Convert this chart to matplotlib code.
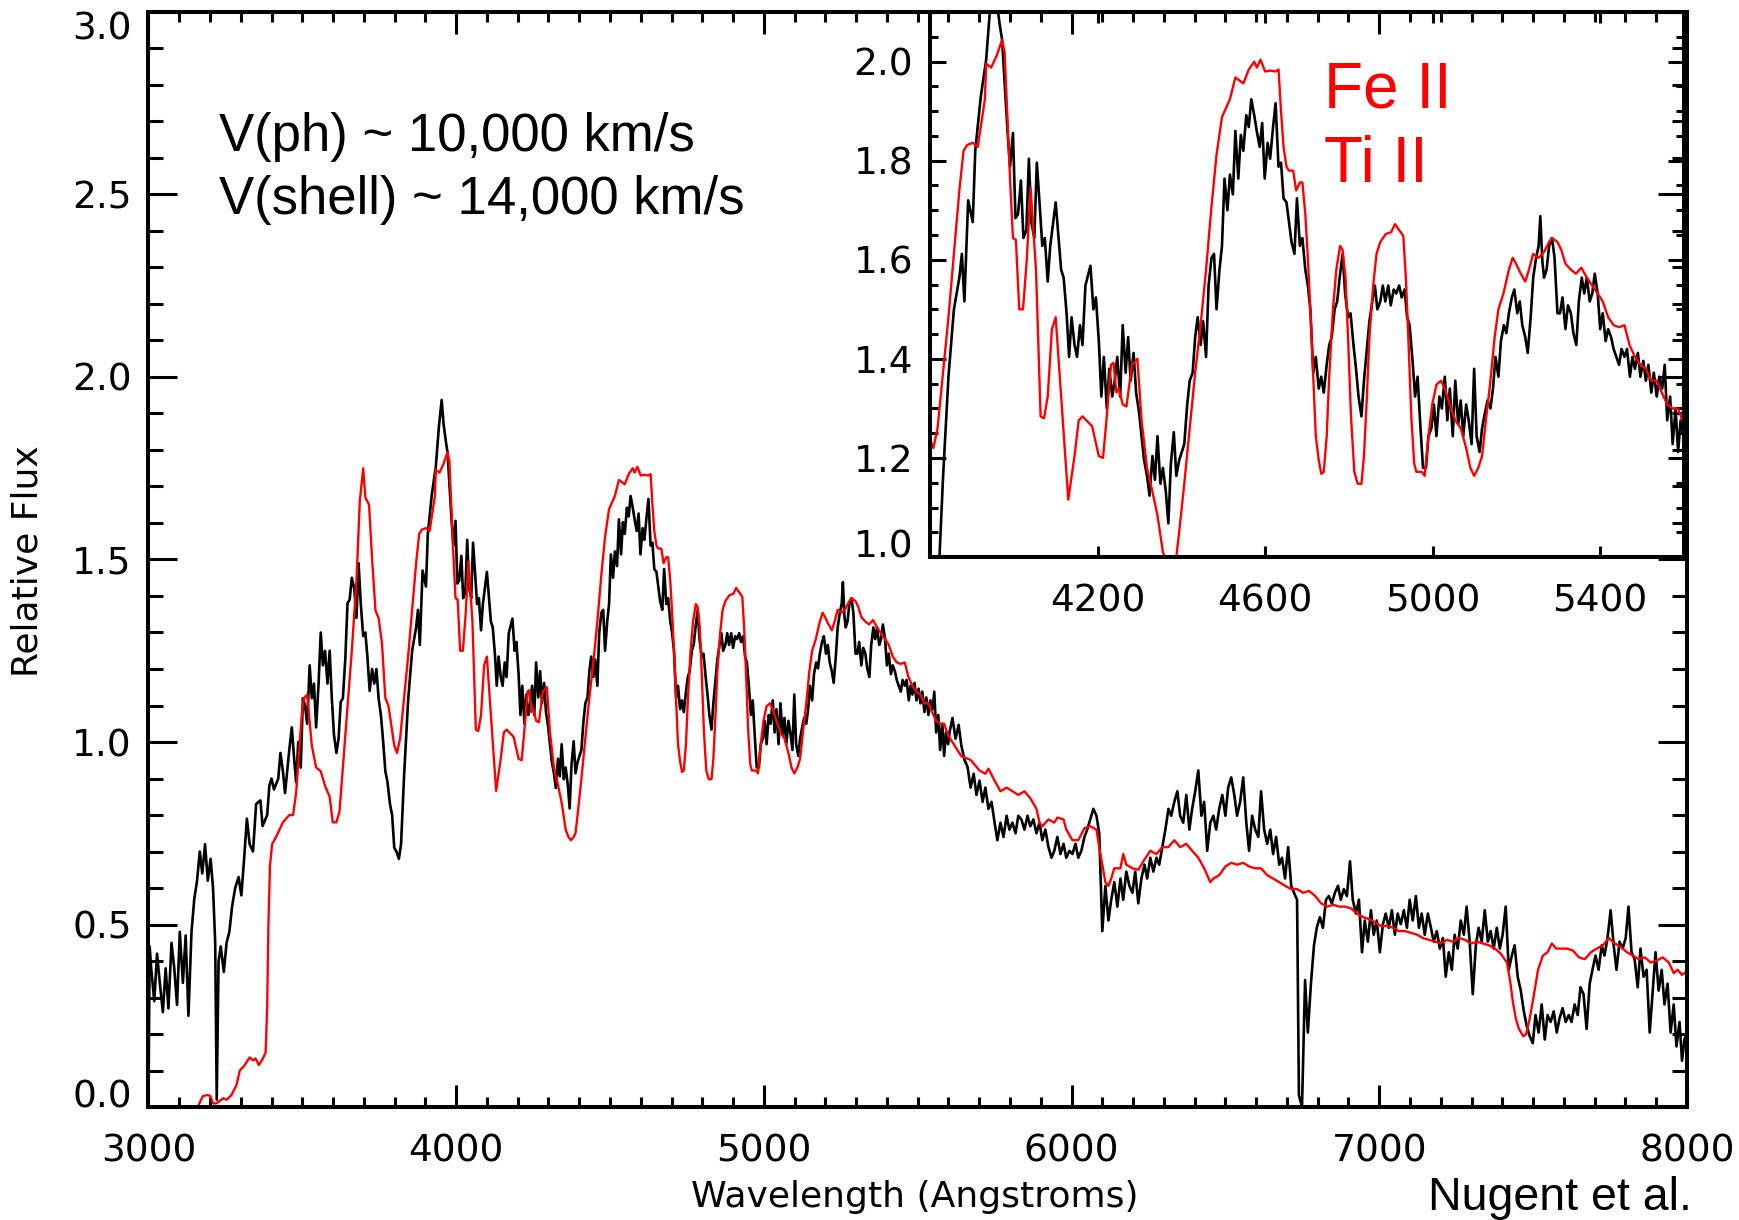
import matplotlib
matplotlib.use("Agg")
import matplotlib.pyplot as plt
from matplotlib import font_manager
from matplotlib.ticker import MultipleLocator, FormatStrFormatter, NullLocator

# observed spectrum (black), wavelength in Angstrom, relative flux
obs_wave = [
    3000, 3004, 3009, 3019, 3028, 3037, 3047, 3056, 3065, 3075, 3084, 3093, 3102, 3112, 3121, 3130,
    3140, 3149, 3158, 3167, 3175, 3184, 3193, 3202, 3210, 3217, 3222, 3228, 3235, 3245, 3254, 3263,
    3272, 3282, 3293, 3302, 3311, 3320, 3329, 3340, 3350, 3364, 3371, 3386, 3393, 3400, 3408, 3422,
    3429, 3437, 3444, 3451, 3458, 3466, 3473, 3480, 3487, 3495, 3502, 3509, 3516, 3524, 3531, 3538,
    3545, 3553, 3560, 3567, 3574, 3582, 3589, 3596, 3603, 3611, 3618, 3625, 3632, 3640, 3647, 3654,
    3661, 3669, 3676, 3683, 3690, 3698, 3705, 3712, 3719, 3727, 3734, 3741, 3748, 3756, 3763, 3770,
    3777, 3785, 3792, 3799, 3806, 3814, 3821, 3831,
    3844, 3857, 3870, 3876, 3882, 3891, 3902, 3908, 3921, 3934, 3944, 3953, 3959, 3966, 3972, 3985,
    3991, 3998, 4004, 4010, 4017, 4023, 4030, 4036, 4042, 4049, 4055, 4062, 4068, 4074, 4081, 4087,
    4094, 4100, 4107, 4113, 4119, 4126, 4132, 4138, 4145, 4151, 4158, 4164, 4171, 4183, 4190, 4196,
    4203, 4209, 4215, 4222, 4228, 4235, 4241, 4247, 4254, 4260, 4267, 4273, 4279, 4286, 4292, 4299,
    4305, 4311, 4318, 4324, 4331, 4337, 4343, 4350, 4356, 4363, 4369, 4375, 4382, 4388, 4395, 4401,
    4407, 4414, 4420, 4427, 4433, 4439, 4446, 4452, 4459, 4465, 4472, 4478, 4484, 4491, 4497, 4503,
    4510, 4516, 4523, 4529, 4536, 4542, 4548, 4555, 4561, 4567, 4574, 4580, 4587, 4593, 4599, 4606,
    4612, 4619, 4625, 4632, 4638, 4644, 4651, 4657, 4663, 4670, 4676, 4683, 4689, 4696, 4702, 4708,
    4715, 4721, 4728, 4734, 4740, 4747, 4753, 4759, 4766, 4772, 4778, 4785, 4791, 4798, 4804, 4811,
    4817, 4823, 4830, 4836, 4843, 4849, 4856, 4862, 4868, 4875, 4881, 4887, 4894, 4900, 4907, 4913,
    4920, 4926, 4933, 4939, 4945, 4952, 4958, 4964, 4971, 4977, 4984, 4990, 4997, 5003, 5009, 5016,
    5022, 5029, 5035, 5041, 5048, 5054, 5061, 5067, 5073, 5080, 5086, 5093, 5099, 5105, 5112, 5118,
    5125, 5131, 5138, 5144, 5150, 5157, 5163, 5170, 5176, 5182, 5189, 5195, 5202, 5208, 5214, 5221,
    5227, 5234, 5240, 5247, 5253, 5257, 5262, 5266, 5272, 5278, 5285, 5291, 5298, 5304, 5310, 5317,
    5323, 5330, 5336, 5343, 5349, 5356, 5362, 5368, 5375, 5381, 5387, 5394, 5400, 5406, 5413, 5419,
    5426, 5432, 5445, 5451, 5458, 5464, 5471, 5477, 5483, 5490, 5496, 5503, 5509, 5515, 5522, 5528,
    5535, 5541, 5548, 5554, 5560, 5567, 5573, 5580, 5586, 5592, 5599,
    5604, 5613, 5623, 5633, 5642, 5652, 5662, 5672, 5682, 5691, 5701, 5711, 5720, 5730, 5740, 5750,
    5759, 5769, 5779, 5789, 5798, 5808, 5818, 5827, 5837, 5847, 5857, 5866, 5876, 5886, 5896, 5905,
    5915, 5925, 5935, 5944, 5954, 5964, 5974, 5983, 5993, 6003, 6013, 6022, 6032, 6042, 6051, 6061,
    6071, 6081, 6090, 6100, 6110, 6120, 6129, 6139, 6149, 6159, 6168, 6178, 6188, 6198, 6207, 6217,
    6227, 6237, 6246, 6256, 6266, 6276, 6285, 6295, 6305, 6315, 6324, 6334, 6344, 6353, 6363, 6373,
    6383, 6392, 6402, 6412, 6422, 6431, 6441, 6451, 6461, 6470, 6480, 6490, 6500, 6509, 6519, 6529,
    6538, 6548, 6558, 6568, 6577, 6587, 6597, 6607, 6616, 6626, 6636, 6646, 6655, 6665, 6675, 6684,
    6694, 6704, 6714, 6723, 6733, 6739, 6749, 6759, 6768, 6778, 6788, 6797, 6807, 6817, 6827, 6836,
    6846, 6856, 6866, 6875, 6885, 6895, 6905, 6914, 6924, 6934, 6944, 6953, 6963, 6973, 6982, 6992,
    7002, 7012, 7021, 7031, 7041, 7051, 7060, 7070, 7080, 7090, 7099, 7109, 7119, 7129, 7138, 7148,
    7158, 7168, 7177, 7187, 7197, 7207, 7216, 7226, 7236, 7245, 7255, 7265, 7275, 7284, 7294, 7304,
    7314, 7323, 7333, 7343, 7353, 7362, 7372, 7382, 7392, 7401, 7411, 7421, 7431, 7440, 7450, 7460,
    7470, 7479, 7489, 7499, 7508, 7518, 7528, 7538, 7547, 7557, 7567, 7577, 7586, 7596, 7606, 7616,
    7625, 7635, 7645, 7654, 7664, 7674, 7684, 7693, 7703, 7713, 7723, 7732, 7742, 7752, 7762, 7771,
    7781, 7791, 7801, 7810, 7820, 7830, 7840, 7849, 7859, 7869, 7879, 7888, 7898, 7908, 7918, 7927,
    7937, 7947, 7957, 7966, 7976, 7984, 7992, 8000,
]
obs_flux = [
    0.0, 0.44, 0.38, 0.29, 0.42, 0.34, 0.26, 0.38, 0.27, 0.45, 0.38, 0.28, 0.48, 0.34, 0.47, 0.25,
    0.48, 0.57, 0.62, 0.70, 0.64, 0.72, 0.62, 0.68, 0.60, 0.45, 0.02, 0.40, 0.44, 0.37, 0.45, 0.48,
    0.55, 0.60, 0.63, 0.58, 0.68, 0.79, 0.72, 0.70, 0.83, 0.84, 0.77, 0.80, 0.88, 0.90, 0.87, 0.90,
    0.97, 0.92, 0.86, 0.92, 0.98, 1.04, 0.96, 0.89, 1.00, 0.93, 1.12, 1.10, 1.05, 1.21, 1.12, 1.16,
    1.04, 1.16, 1.30, 1.21, 1.25, 1.16, 1.25, 1.12, 1.02, 0.97, 1.01, 1.11, 1.12, 1.23, 1.38, 1.39,
    1.45, 1.42, 1.34, 1.49, 1.38, 1.29, 1.30, 1.23, 1.14, 1.20, 1.16, 1.20, 1.12, 1.07, 1.00, 0.92,
    0.89, 0.83, 0.80, 0.71, 0.70, 0.68, 0.72, 0.91,
    1.114, 1.25, 1.314, 1.362, 1.266, 1.47, 1.426, 1.57, 1.678, 1.754, 1.864, 1.937, 1.873, 1.827, 1.794, 1.61,
    1.538, 1.606, 1.434, 1.442, 1.51, 1.394, 1.41, 1.554, 1.426, 1.394, 1.546, 1.458, 1.378, 1.394, 1.306, 1.378,
    1.426, 1.466, 1.394, 1.33, 1.314, 1.242, 1.154, 1.234, 1.178, 1.154, 1.218, 1.178, 1.298, 1.338, 1.25, 1.274,
    1.186, 1.074, 1.154, 1.05, 1.13, 1.074, 1.106, 1.154, 1.074, 1.218, 1.122, 1.194, 1.106, 1.162, 1.082, 1.042,
    0.994, 0.946, 0.914, 0.874, 0.954, 0.906, 0.994, 0.898, 0.93, 0.882, 0.818, 0.938, 1.002, 0.914, 0.946, 0.962,
    0.978, 1.058, 1.106, 1.122, 1.194, 1.234, 1.178, 1.226, 1.154, 1.298, 1.354, 1.362, 1.25, 1.33, 1.378, 1.514,
    1.45, 1.522, 1.482, 1.61, 1.514, 1.602, 1.57, 1.642, 1.618, 1.674, 1.642, 1.61, 1.578, 1.626, 1.514, 1.586,
    1.554, 1.618, 1.666, 1.538, 1.546, 1.474, 1.466, 1.426, 1.386, 1.362, 1.474, 1.378, 1.394, 1.33, 1.298, 1.25,
    1.122, 1.154, 1.09, 1.114, 1.082, 1.138, 1.178, 1.194, 1.25, 1.266, 1.314, 1.362, 1.282, 1.234, 1.242, 1.178,
    1.13, 1.074, 1.034, 1.106, 1.17, 1.226, 1.266, 1.298, 1.25, 1.266, 1.298, 1.266, 1.298, 1.258, 1.29, 1.282,
    1.298, 1.274, 1.29, 1.234, 1.218, 1.146, 1.074, 1.114, 1.01, 0.93, 0.93, 0.994, 1.01, 1.058, 0.994, 1.074,
    1.05, 1.114, 1.026, 1.09, 0.994, 1.106, 1.018, 1.066, 0.994, 1.058, 1.026, 0.978, 1.13, 0.994, 0.962, 1.01,
    1.042, 1.066, 1.05, 1.09, 1.154, 1.114, 1.186, 1.218, 1.202, 1.242, 1.274, 1.29, 1.242, 1.266, 1.218, 1.194,
    1.162, 1.234, 1.314, 1.354, 1.378, 1.438, 1.346, 1.314, 1.33, 1.378, 1.394, 1.354, 1.242, 1.242, 1.274, 1.21,
    1.258, 1.242, 1.202, 1.178, 1.266, 1.314, 1.282, 1.314, 1.266, 1.282, 1.322, 1.282, 1.21, 1.242, 1.186, 1.21,
    1.194, 1.17, 1.138, 1.17, 1.154, 1.17, 1.114, 1.154, 1.13, 1.162, 1.114, 1.146, 1.106, 1.138, 1.082, 1.122,
    1.074, 1.114, 1.09, 1.138, 1.026, 1.074, 0.978, 1.05, 0.962, 1.026, 0.994,
    1.028, 1.066, 1.009, 1.047, 0.99, 0.951, 0.932, 0.875, 0.913, 0.855, 0.894, 0.836, 0.875, 0.817, 0.836, 0.779,
    0.731, 0.779, 0.74, 0.798, 0.76, 0.779, 0.75, 0.798, 0.788, 0.76, 0.798, 0.769, 0.788, 0.75, 0.779, 0.731,
    0.76, 0.712, 0.683, 0.702, 0.74, 0.693, 0.721, 0.683, 0.702, 0.693, 0.721, 0.683, 0.702, 0.74, 0.76, 0.788,
    0.817, 0.798, 0.75, 0.482, 0.606, 0.511, 0.568, 0.616, 0.549, 0.626, 0.568, 0.645, 0.606, 0.587, 0.645, 0.558,
    0.626, 0.664, 0.626, 0.683, 0.645, 0.683, 0.664, 0.712, 0.76, 0.817, 0.798, 0.836, 0.865, 0.798, 0.779, 0.855,
    0.76, 0.817, 0.865, 0.922, 0.798, 0.836, 0.702, 0.779, 0.798, 0.76, 0.817, 0.855, 0.798, 0.875, 0.903, 0.855,
    0.798, 0.836, 0.903, 0.779, 0.702, 0.798, 0.76, 0.74, 0.865, 0.76, 0.721, 0.76, 0.693, 0.74, 0.664, 0.683,
    0.626, 0.712, 0.606, 0.587, 0.568, 0.032, 0.0, 0.348, 0.204, 0.338, 0.443, 0.491, 0.52, 0.491, 0.568, 0.578,
    0.558, 0.587, 0.606, 0.568, 0.597, 0.578, 0.673, 0.568, 0.53, 0.568, 0.424, 0.511, 0.453, 0.539, 0.472, 0.511,
    0.424, 0.501, 0.53, 0.491, 0.539, 0.472, 0.53, 0.501, 0.539, 0.491, 0.568, 0.511, 0.578, 0.491, 0.53, 0.472,
    0.53, 0.491, 0.453, 0.482, 0.434, 0.463, 0.357, 0.424, 0.376, 0.472, 0.434, 0.511, 0.472, 0.549, 0.453, 0.309,
    0.443, 0.491, 0.453, 0.539, 0.453, 0.482, 0.434, 0.491, 0.434, 0.472, 0.549, 0.376, 0.415, 0.443, 0.357, 0.319,
    0.262, 0.223, 0.194, 0.175, 0.252, 0.204, 0.281, 0.185, 0.252, 0.233, 0.262, 0.204, 0.243, 0.271, 0.233, 0.252,
    0.233, 0.281, 0.252, 0.328, 0.309, 0.214, 0.338, 0.376, 0.415, 0.376, 0.443, 0.415, 0.463, 0.539, 0.443, 0.376,
    0.453, 0.434, 0.463, 0.549, 0.424, 0.405, 0.328, 0.434, 0.357, 0.376, 0.204, 0.309, 0.424, 0.319, 0.376, 0.281,
    0.338, 0.204, 0.281, 0.166, 0.233, 0.127, 0.185, 0.204,
]

# model spectrum (red)
model_wave = [
    3000, 3160, 3177, 3193, 3201, 3210, 3221, 3243, 3254, 3270, 3286, 3297, 3313, 3329, 3340, 3348,
    3359, 3372, 3381, 3386, 3390, 3395, 3402, 3415, 3437, 3458, 3470, 3480, 3490, 3500, 3506, 3516,
    3531, 3545, 3560, 3574, 3589, 3599, 3611, 3621, 3632, 3647, 3661, 3676, 3687, 3698, 3705, 3717,
    3727, 3738, 3748, 3759, 3770, 3780, 3792,
    3799, 3808, 3818, 3831, 3844, 3857, 3870, 3880, 3889, 3902, 3914, 3921, 3931, 3934, 3946, 3959,
    3972, 3978, 3985, 3991, 3998, 4005, 4013, 4022, 4031, 4040, 4053, 4064, 4072, 4081, 4091, 4100,
    4113, 4126, 4130, 4145, 4155, 4164, 4187, 4203, 4213, 4222, 4232, 4238, 4245, 4251, 4260, 4269,
    4282, 4295, 4305, 4318, 4331, 4343, 4356, 4365, 4373, 4382, 4388, 4395, 4407, 4420, 4433, 4446,
    4459, 4472, 4484, 4497, 4516, 4529, 4548, 4561, 4574, 4580, 4589, 4600, 4612, 4625, 4632, 4638,
    4644, 4651, 4657, 4667, 4674, 4683, 4689, 4696, 4702, 4708, 4715, 4721, 4728, 4734, 4740, 4747,
    4753, 4762, 4770, 4779, 4785, 4792, 4798, 4805, 4813, 4821, 4830, 4836, 4843, 4849, 4858, 4866,
    4875, 4888, 4901, 4910, 4920, 4930, 4936, 4943, 4949, 4956, 4961, 4974, 4981, 4990, 4999, 5009,
    5020, 5029, 5041, 5054, 5067, 5080, 5090, 5099, 5109, 5118, 5127, 5137, 5148, 5157, 5169, 5182,
    5191, 5199, 5208, 5221, 5230, 5240, 5253, 5266, 5278, 5285, 5298, 5307, 5317, 5330, 5342, 5355,
    5368, 5381, 5394, 5406, 5419, 5432, 5445, 5458, 5470, 5483, 5496, 5509, 5522, 5535, 5547, 5560,
    5573, 5586, 5599,
    5642, 5672, 5701, 5720, 5730, 5750, 5769, 5789, 5808, 5827, 5847, 5866, 5886, 5896, 5905, 5925,
    5944, 5954, 5974, 5983, 6003, 6022, 6042, 6061, 6081, 6090, 6100, 6110, 6120, 6129, 6139, 6159,
    6168, 6178, 6198, 6217, 6237, 6256, 6276, 6295, 6315, 6334, 6353, 6373, 6392, 6412, 6431, 6451,
    6461, 6480, 6500, 6519, 6538, 6558, 6577, 6597, 6616, 6636, 6655, 6675, 6694, 6714, 6733, 6753,
    6772, 6792, 6811, 6831, 6850, 6870, 6889, 6909, 6928, 6948, 6967, 6986, 7006, 7025, 7045, 7064,
    7084, 7103, 7123, 7142, 7162, 7181, 7201, 7220, 7240, 7259, 7279, 7298, 7318, 7337, 7357, 7376,
    7395, 7415, 7425, 7434, 7444, 7454, 7468, 7477, 7489, 7503, 7516, 7532, 7547, 7561, 7575, 7590,
    7610, 7629, 7649, 7668, 7688, 7707, 7727, 7746, 7766, 7785, 7805, 7824, 7843, 7863, 7882, 7902,
    7921, 7941, 7957, 7970, 7984, 8000,
]
model_flux = [
    0.0, 0.0, 0.03, 0.033, 0.03, 0.01, 0.01, 0.024, 0.02, 0.033, 0.06, 0.10, 0.115, 0.136, 0.128, 0.133,
    0.115, 0.133, 0.15, 0.28, 0.50, 0.66, 0.72, 0.74, 0.78, 0.80, 0.80, 0.86, 0.98, 1.09, 1.12, 1.13,
    0.99, 0.93, 0.92, 0.88, 0.85, 0.78, 0.78, 0.81, 0.93, 1.09, 1.25, 1.44, 1.66, 1.75, 1.67, 1.65,
    1.50, 1.36, 1.34, 1.27, 1.12, 1.10, 1.03,
    0.99, 0.97, 1.01, 1.122, 1.234, 1.362, 1.49, 1.57, 1.582, 1.586, 1.578, 1.618, 1.674, 1.746, 1.738, 1.762,
    1.794, 1.77, 1.634, 1.514, 1.394, 1.39, 1.25, 1.25, 1.35, 1.495, 1.33, 1.034, 1.03, 1.074, 1.21, 1.234,
    1.074, 0.914, 0.866, 0.954, 1.026, 1.034, 1.014, 0.954, 0.95, 1.034, 1.138, 1.142, 1.082, 1.09, 1.058, 1.054,
    1.138, 1.15, 1.026, 0.93, 0.882, 0.834, 0.76, 0.74, 0.731, 0.74, 0.75, 0.802, 0.898, 1.01, 1.122, 1.218,
    1.33, 1.458, 1.562, 1.638, 1.674, 1.718, 1.706, 1.734, 1.75, 1.738, 1.754, 1.73, 1.732, 1.73, 1.734, 1.65,
    1.578, 1.538, 1.53, 1.53, 1.49, 1.506, 1.506, 1.442, 1.354, 1.25, 1.114, 0.994, 0.946, 0.918, 0.922, 0.994,
    1.114, 1.25, 1.33, 1.378, 1.37, 1.314, 1.194, 1.034, 0.922, 0.898, 0.898, 0.954, 1.074, 1.194, 1.298, 1.362,
    1.386, 1.402, 1.406, 1.422, 1.41, 1.398, 1.314, 1.17, 1.034, 0.938, 0.922, 0.922, 0.914, 0.994, 1.058, 1.098,
    1.106, 1.09, 1.058, 1.026, 1.01, 0.97, 0.93, 0.914, 0.93, 0.954, 1.026, 1.098, 1.194, 1.25, 1.282, 1.33,
    1.354, 1.342, 1.326, 1.306, 1.33, 1.362, 1.354, 1.366, 1.386, 1.394, 1.386, 1.37, 1.342, 1.33, 1.322, 1.334,
    1.314, 1.298, 1.282, 1.266, 1.234, 1.218, 1.214, 1.218, 1.178, 1.154, 1.138, 1.13, 1.106, 1.106, 1.082, 1.058,
    1.05, 1.05, 1.018,
    0.961, 0.951, 0.922, 0.913, 0.927, 0.894, 0.865, 0.875, 0.865, 0.855, 0.865, 0.846, 0.817, 0.779, 0.769, 0.788,
    0.779, 0.793, 0.788, 0.76, 0.731, 0.731, 0.764, 0.769, 0.76, 0.712, 0.664, 0.616, 0.606, 0.626, 0.654, 0.654,
    0.693, 0.664, 0.654, 0.65, 0.678, 0.702, 0.693, 0.712, 0.712, 0.731, 0.712, 0.721, 0.702, 0.683, 0.654, 0.616,
    0.626, 0.635, 0.659, 0.669, 0.664, 0.669, 0.659, 0.654, 0.654, 0.635, 0.626, 0.616, 0.606, 0.597, 0.597, 0.587,
    0.592, 0.578, 0.558, 0.549, 0.554, 0.549, 0.549, 0.544, 0.53, 0.52, 0.515, 0.506, 0.496, 0.496, 0.491, 0.482,
    0.482, 0.477, 0.472, 0.463, 0.458, 0.453, 0.448, 0.458, 0.453, 0.463, 0.458, 0.448, 0.453, 0.448, 0.443, 0.434,
    0.42, 0.396, 0.348, 0.29, 0.242, 0.214, 0.194, 0.199, 0.242, 0.309, 0.376, 0.415, 0.424, 0.448, 0.434, 0.434,
    0.434, 0.429, 0.41, 0.405, 0.424, 0.434, 0.443, 0.463, 0.448, 0.439, 0.424, 0.415, 0.405, 0.41, 0.396, 0.401,
    0.41, 0.396, 0.367, 0.376, 0.362, 0.372,
]

main_xticks = [3000, 4000, 5000, 6000, 7000, 8000]
main_yticks = [0.0, 0.5, 1.0, 1.5, 2.0, 2.5, 3.0]
inset_xticks = [4200, 4600, 5000, 5400]
inset_yticks = [1.0, 1.2, 1.4, 1.6, 1.8, 2.0]
inset_shift = 0.25   # the inset spectrum is plotted on a +0.25 flux scale

names = {f.name for f in font_manager.fontManager.ttflist}
if "Liberation Sans Narrow" in names:
    vel_font, vel_size = "Liberation Sans Narrow", 46
else:
    vel_font, vel_size = "Liberation Sans", 38

fig = plt.figure(figsize=(17.4, 12.2), dpi=100)

ax = fig.add_axes([0.0853, 0.0926, 0.8842, 0.8976])
ax.plot(obs_wave, obs_flux, color="black", lw=1.9)
ax.plot(model_wave, model_flux, color="red", lw=1.7)
ax.set_xlim(3000, 8000)
ax.set_ylim(0, 3)
ax.set_xticks(main_xticks)
ax.set_yticks(main_yticks)
ax.xaxis.set_minor_locator(MultipleLocator(100))
ax.yaxis.set_minor_locator(MultipleLocator(0.1))
ax.yaxis.set_major_formatter(FormatStrFormatter("%.1f"))
ax.tick_params(which="both", direction="in", top=True, right=True, width=2.2, labelsize=27)
ax.tick_params(axis="x", which="major", length=16, pad=19)
ax.tick_params(axis="x", which="minor", length=7.5)
ax.tick_params(axis="y", which="major", length=21, pad=12)
ax.tick_params(axis="y", which="minor", length=11)
for s in ax.spines.values():
    s.set_linewidth(2.9)
yt = ax.yaxis.get_major_ticks()
yt[0].label1.set_verticalalignment("baseline")
yt[-1].label1.set_verticalalignment("top")

# inset, zoom on 3800-5600 A
axin = fig.add_axes([0.5345, 0.5434, 0.4333, 0.4467])
axin.patch.set_alpha(0)
axin.plot(obs_wave, [f + inset_shift for f in obs_flux], color="black", lw=1.9)
axin.plot(model_wave, [f + inset_shift for f in model_flux], color="red", lw=1.7)
axin.set_xlim(3800, 5600)
axin.set_ylim(1.0, 2.1)
axin.set_xticks(inset_xticks)
axin.set_yticks(inset_yticks)
axin.xaxis.set_minor_locator(NullLocator())
axin.yaxis.set_minor_locator(MultipleLocator(0.05))
axin.yaxis.set_major_formatter(FormatStrFormatter("%.1f"))
axin.tick_params(which="both", direction="in", top=True, right=True, width=2.2, labelsize=27)
axin.tick_params(axis="x", which="major", length=8, pad=19)
axin.tick_params(axis="y", which="major", length=11.5, pad=12)
axin.tick_params(axis="y", which="minor", length=5.8)
for s in axin.spines.values():
    s.set_linewidth(2.9)
axin.yaxis.get_major_ticks()[0].label1.set_verticalalignment("baseline")

fig.text(28 / 1740, 1 - 561 / 1220, "Relative Flux", rotation=90, fontsize=26,
         ha="center", va="center")
fig.text(915 / 1740, 1 - 1197 / 1220, "Wavelength (Angstroms)", fontsize=26,
         ha="center", va="center")

fig.text(219 / 1740, 1 - 151 / 1220, "V(ph) ~ 10,000 km/s", family=vel_font,
         fontsize=vel_size, va="baseline")
fig.text(219 / 1740, 1 - 214 / 1220, "V(shell) ~ 14,000 km/s", family=vel_font,
         fontsize=vel_size, va="baseline")
fig.text(1324 / 1740, 1 - 107 / 1220, "Fe II", family="Liberation Sans",
         fontsize=46, color="red", va="baseline")
fig.text(1324 / 1740, 1 - 182 / 1220, "Ti II", family="Liberation Sans",
         fontsize=46, color="red", va="baseline")
fig.text(1428 / 1740, 1 - 1210 / 1220, "Nugent et al.", family="Liberation Sans",
         fontsize=33.5, va="baseline")

fig.savefig("out.png", dpi=100)
